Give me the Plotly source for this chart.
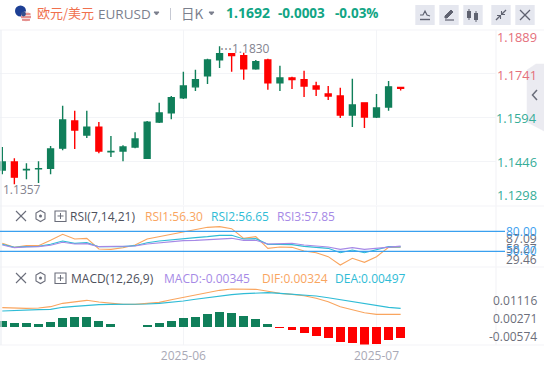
import plotly.graph_objects as go

W, H = 544, 365
# ---- data ----
idx = list(range(34))
opens = [1.1416,1.1443,1.1417,1.1420,1.1422,1.1490,1.1582,1.1534,1.1561,1.1478,1.1480,1.1494,1.1456,1.1578,1.1609,1.1660,1.1697,1.1734,1.1788,1.1809,1.1802,1.1758,1.1788,1.1711,1.1727,1.1721,1.1700,1.1673,1.1666,1.1602,1.1643,1.1595,1.1629,1.1695]
highs = [1.1494,1.1456,1.1439,1.1446,1.1497,1.1633,1.1616,1.1616,1.1578,1.1531,1.1500,1.1544,1.1582,1.1643,1.1666,1.1748,1.1755,1.1792,1.1834,1.1809,1.1812,1.1788,1.1792,1.1768,1.1731,1.1751,1.1714,1.1700,1.1694,1.1724,1.1643,1.1673,1.1717,1.1697]
lows = [1.1402,1.1368,1.1385,1.1372,1.1402,1.1483,1.1487,1.1524,1.1473,1.1460,1.1446,1.1490,1.1453,1.1575,1.1588,1.1656,1.1683,1.1707,1.1761,1.1748,1.1721,1.1755,1.1687,1.1683,1.1690,1.1663,1.1666,1.1653,1.1592,1.1561,1.1558,1.1592,1.1616,1.1685]
closes = [1.1443,1.1392,1.1418,1.1421,1.1487,1.1585,1.1551,1.1561,1.1480,1.1479,1.1494,1.1521,1.1578,1.1609,1.1660,1.1700,1.1721,1.1788,1.1809,1.1803,1.1758,1.1782,1.1711,1.1727,1.1722,1.1700,1.1690,1.1666,1.1602,1.1636,1.1595,1.1626,1.1697,1.1692]
rsi1 = [62,56,58.5,58.5,66.5,75.5,68.5,69.5,53.5,53,55.5,59.5,68.5,72,76,79.5,82.5,86,87.09,84,69.5,72,54.5,56.5,56,50.5,48,42,29.46,39.5,33.5,42,56,56.3]
rsi2 = [60.5,56,57,57.5,60.5,65.5,62,63,57,57,57,58.5,63,65.5,67.5,69.5,70.5,72,74,74,68.5,69,60.5,60.5,60,57.5,55.5,54.5,48,52,48,52,57,56.65]
rsi3 = [59.5,55.5,56.5,57,59,63.5,61,61.5,57,57,57,58,61,63,64.5,66,66.5,67.5,69,69.5,66.5,66.5,61,61.5,62,59.5,57.5,56.5,53,55.5,53,54.5,57,57.85]
dif = [.00522,.00504,.00504,.00513,.00549,.00639,.00684,.0072,.00675,.00639,.00612,.00612,.0063,.00666,.00738,.00801,.00846,.00909,.0099,.01026,.01026,.01017,.00963,.00909,.00882,.00846,.00774,.00684,.00549,.00459,.00387,.00342,.00342,.00342]
dea = [.00432,.0045,.00459,.00468,.00477,.00531,.00558,.00585,.00603,.00612,.00612,.00612,.00621,.00639,.00666,.00702,.00747,.00792,.00837,.00873,.009,.00918,.00927,.00909,.00891,.00873,.00837,.00792,.00738,.00684,.0063,.00576,.00531,.00504]
hist = [.00162,.00108,.00108,.00081,.00135,.00243,.0027,.0027,.00162,.00081,.00006,-.00006,.00054,.00108,.00162,.00243,.0027,.00351,.00405,.00378,.00297,.00216,.00081,-.00018,-.00072,-.00162,-.00243,-.00297,-.00405,-.00432,-.00486,-.00459,-.00351,-.00288]
price_ticks = [1.1889, 1.1741, 1.1594, 1.1446, 1.1298]
date_tick_pos = [15, 31]
date_tick_text = ["2025-06", "2025-07"]
rsi_levels = [80, 50]

GREEN, RED = "#107f5a", "#ff0000"
ORANGE, CYAN, PURPLE, BLUE = "#f9a55f", "#2fbcd6", "#a689e6", "#3aa0ef"
FONT = "Noto Sans CJK SC"
GRID = "#f3f4f7"

fx = lambda x: x / W
fy = lambda y: 1 - y / H

fig = go.Figure()
fig.add_trace(go.Candlestick(x=idx, open=opens, high=highs, low=lows, close=closes,
    increasing=dict(line=dict(color=GREEN, width=1.4), fillcolor=GREEN),
    decreasing=dict(line=dict(color=RED, width=1.4), fillcolor=RED),
    whiskerwidth=0, xaxis="x", yaxis="y", hoverinfo="skip"))
for s, c in ((rsi1, ORANGE), (rsi2, CYAN), (rsi3, PURPLE)):
    fig.add_trace(go.Scatter(x=idx, y=s, mode="lines", line=dict(color=c, width=1.1), xaxis="x2", yaxis="y2", hoverinfo="skip"))
fig.add_trace(go.Bar(x=idx, y=hist, marker=dict(color=[GREEN if v >= 0 else RED for v in hist], line_width=0),
                     width=0.74, xaxis="x3", yaxis="y3", hoverinfo="skip"))
for s, c in ((dif, ORANGE), (dea, CYAN)):
    fig.add_trace(go.Scatter(x=idx, y=s, mode="lines", line=dict(color=c, width=1.1), xaxis="x3", yaxis="y3", hoverinfo="skip"))

xr = [-0.19, 40.9]
xcommon = dict(range=xr, domain=[0, 496 / W], tickmode="array", tickvals=date_tick_pos, showgrid=True,
               gridcolor=GRID, gridwidth=1.2, zeroline=False, showline=False, ticks="", fixedrange=True)
ycommon = dict(side="right", zeroline=False, showticklabels=False, ticks="", showline=False, fixedrange=True,
               gridcolor=GRID, gridwidth=1.2)

shapes, ann = [], []
def text(x, y, t, color, size=12, anchor="left", **kw):
    ann.append(dict(xref="paper", yref="paper", x=fx(x), y=fy(y), text=t, showarrow=False, xanchor=anchor,
                    yanchor="middle", font=dict(family=kw.pop("family", FONT), size=size, color=color), borderpad=0, **kw))
def rect(x0, y0, x1, y1, fill=None, line=None, w=1, **kw):
    shapes.append(dict(type="rect", xref="paper", yref="paper", x0=fx(x0), x1=fx(x1), y0=fy(y0), y1=fy(y1),
                       fillcolor=fill or "rgba(0,0,0,0)", line=dict(color=line or "rgba(0,0,0,0)", width=w), **kw))
def path(pts, color="#5f6270", w=1.3, fill=None, close=False):
    d = "M" + " L".join(f"{fx(x):.5f},{fy(y):.5f}" for x, y in pts) + (" Z" if close else "")
    shapes.append(dict(type="path", xref="paper", yref="paper", path=d, line=dict(color=color, width=w),
                       fillcolor=fill or "rgba(0,0,0,0)"))
def circle(cx, cy, r, fill):
    shapes.append(dict(type="circle", xref="paper", yref="paper", x0=fx(cx - r), x1=fx(cx + r), y0=fy(cy + r), y1=fy(cy - r),
                       fillcolor=fill, line=dict(width=0)))

# frame lines
for y in (30, 206, 267, 345):
    path([(0, y), (544, y)], GRID, 1.2)
path([(1, 30), (1, 345)], "#eceef3", 1.2)
path([(496, 30), (496, 345)], GRID, 1.2)
# RSI levels
for v in rsi_levels:
    shapes.append(dict(type="line", xref="paper", yref="y2", x0=0, x1=505 / W, y0=v, y1=v, line=dict(color=BLUE, width=1.2)))

# flag
circle(20.5, 11, 5.5, "#1d3f94")
circle(26, 16.5, 5, "#f3dcdc")
path([(21.5, 14), (30.5, 14)], "#d9534f", 1.1)
path([(21, 17), (31, 17)], "#d9534f", 1.1)
path([(22, 20), (30, 20)], "#d9534f", 1.1)
circle(23.5, 14, 2.4, "#34508f")

# header
text(36, 12.5, "欧元/美元", "#f0704d", 13)
text(97, 14, "EURUSD", "#7b7f8d", 13.5, family="Open Sans")
path([(154, 12), (159, 12), (156.5, 15)], "#7b7f8d", 1, "#7b7f8d", True)
path([(170.5, 8), (170.5, 20)], "#c6c9d3", 1)
text(180, 12.5, "日K", "#7b7f8d", 13.5)
path([(209, 12), (214, 12), (211.5, 15)], "#7b7f8d", 1, "#7b7f8d", True)
text(225, 12.5, "<b>1.1692</b>", "#12a585", 14, family="Open Sans")
text(277, 12.5, "<b>-0.0003</b>", "#12a585", 13.5, family="Open Sans")
text(334, 12.5, "<b>-0.03%</b>", "#12a585", 13.5, family="Open Sans")

# toolbar buttons
for x0 in (415.3, 439.3, 463.3, 491.3, 515.3):
    rect(x0, 5, x0 + 19.4, 25, "#e5e7ef", None)
path([(420, 15), (423, 15), (425, 11), (427, 15), (430, 16)], "#5f6270", 1.2)
path([(420, 19.5), (430, 19.5)], "#5f6270", 1.4)
path([(445, 16), (451, 10), (453, 12), (447, 18), (445, 18)], "#5f6270", 1, "#5f6270", True)
path([(445, 20), (454, 20)], "#5f6270", 1.2)
for x, y0, y1 in ((469, 11, 18), (476, 13, 20)):
    rect(x - 2, y0, x + 2, y1, "#5f6270")
    path([(x, y0 - 2), (x, y1 + 2)], "#5f6270", 1)
path([(496, 20), (500, 16)], "#5f6270", 1.3); path([(502, 14), (506, 10)], "#5f6270", 1.3)
path([(497, 15.5), (500.5, 15.5), (500.5, 19)], "#5f6270", 1.1); path([(501.5, 11), (501.5, 14.5), (505, 14.5)], "#5f6270", 1.1)
path([(520, 10), (530, 20)], "#5f6270", 1.3); path([(530, 10), (520, 20)], "#5f6270", 1.3)

# collapse tab
path([(527, 70), (536, 64), (544, 64), (544, 131), (527, 122)], "#ebebf1", 0.5, "#ebebf1", True)
path([(537, 90), (532.5, 95), (537, 100)], "#6a6d7a", 1.5)

# price labels
for y, t, c in ((37, "1.1889", "#e5707c"), (75, "1.1741", "#e5707c"), (118, "1.1594", "#35ad98"),
                (162, "1.1446", "#35ad98"), (195, "1.1298", "#35ad98")):
    text(538, y, t, c, 12.8, "right", family="Open Sans")
text(219, 48, "⋯1.1830", "#83838f", 12, family="Open Sans")
text(2, 189, "1.1357", "#83838f", 12, family="Open Sans")

# pane headers
def pane_icons(y):
    path([(16, y - 5), (26, y + 5)], "#6a6d7a", 1.1); path([(26, y - 5), (16, y + 5)], "#6a6d7a", 1.1)
    path([(40.5, y - 5.5), (45, y - 3), (45, y + 3), (40.5, y + 5.5), (36, y + 3), (36, y - 3)], "#6a6d7a", 1.1, None, True)
    circle(40.5, y, 1.5, "#6a6d7a")
    rect(55, y - 5, 66, y + 5.5, None, "#6a6d7a", 1.1)
    path([(57.5, y), (63.5, y)], "#6a6d7a", 1); path([(60.5, y - 3), (60.5, y + 3)], "#6a6d7a", 1)
pane_icons(216); pane_icons(278)
text(69, 216.5, "RSI(7,14,21)", "#4d505c", 12, family="Open Sans")
text(144, 216.5, "RSI1:56.30", ORANGE, 12, family="Open Sans")
text(210, 216.5, "RSI2:56.65", CYAN, 12, family="Open Sans")
text(276, 216.5, "RSI3:57.85", PURPLE, 12, family="Open Sans")
text(70, 278.5, "MACD(12,26,9)", "#4d505c", 12, family="Open Sans")
text(163, 278.5, "MACD:-0.00345", PURPLE, 12, family="Open Sans")
text(261, 278.5, "DIF:0.00324", ORANGE, 12, family="Open Sans")
text(334, 278.5, "DEA:0.00497", CYAN, 12, family="Open Sans")

# RSI labels
for y, t, c in ((238.7, "87.09", "#6c6e7a"), (248, "58.27", "#6c6e7a"), (259, "29.46", "#6c6e7a"),
                (231.5, "80.00", BLUE), (251, "50.00", BLUE)):
    text(538, y, t, c, 12, "right", family="Open Sans")
# MACD labels
for y, t in ((300, "0.01116"), (318.5, "0.00271"), (336.7, "-0.00574")):
    text(538, y, t, "#6c6e7a", 12, "right", family="Open Sans")

fig.update_layout(
    width=W, height=H, margin=dict(l=0, r=0, t=0, b=0), paper_bgcolor="white", plot_bgcolor="white",
    showlegend=False, hovermode=False, dragmode=False, bargap=0,
    xaxis=dict(**xcommon, anchor="y", showticklabels=False, rangeslider=dict(visible=False)),
    xaxis2=dict(**xcommon, anchor="y2", showticklabels=False, matches="x"),
    xaxis3=dict(**xcommon, anchor="y3", matches="x", showticklabels=True, ticktext=date_tick_text,
                tickfont=dict(family="Open Sans", size=12, color="#a9a9b6"), ticklabelstandoff=2),
    yaxis=dict(**ycommon, domain=[fy(205), fy(30)], range=[1.1298, 1.1889], tickmode="array", tickvals=price_ticks, showgrid=True),
    yaxis2=dict(**ycommon, domain=[fy(267), fy(206)], range=[26.5, 118], showgrid=False),
    yaxis3=dict(**ycommon, domain=[fy(345), fy(267)], range=[-.00486, .0162], showgrid=False),
    shapes=shapes, annotations=ann,
)
fig.write_html("out.html", config=dict(displayModeBar=False, staticPlot=True),
               post_script="document.body.style.margin='0';document.documentElement.style.overflow='hidden';")
